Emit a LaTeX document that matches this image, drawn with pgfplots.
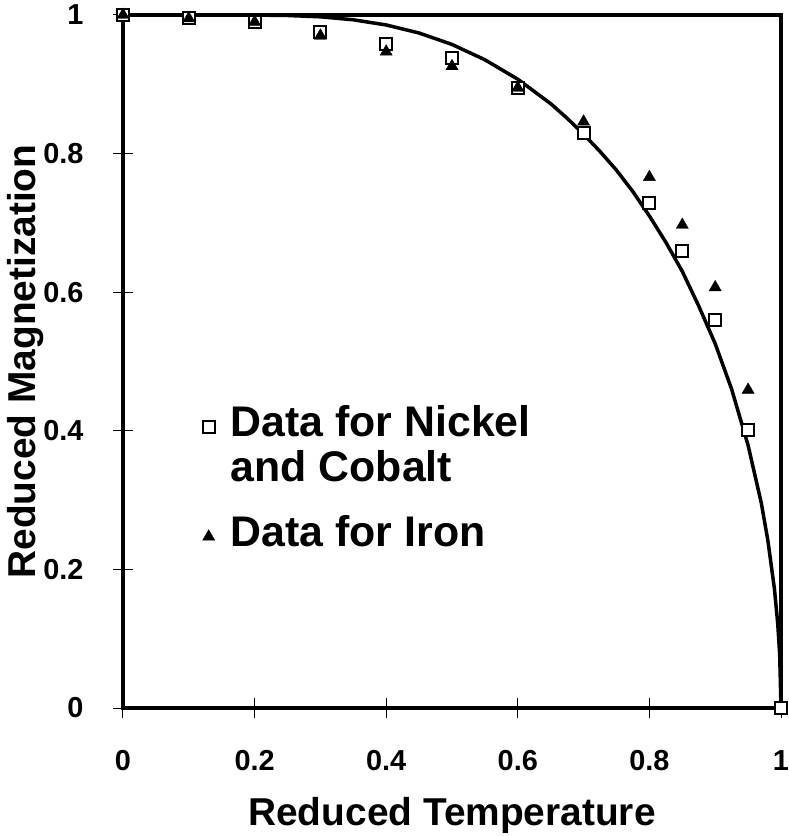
\documentclass[border=0pt]{standalone}
\usepackage{fontspec}
\setmainfont{Liberation Sans}
\usepackage{pgfplots}
\pgfplotsset{compat=1.18}
\begin{document}
\begin{tikzpicture}
\begin{axis}[name=ax, scale only axis, width=658bp, height=693bp,
  xmin=0, xmax=1, ymin=0, ymax=1,
  xtick={0,0.2,0.4,0.6,0.8,1}, ytick={0,0.2,0.4,0.6,0.8,1},
  tick pos=left,
  axis line style={line width=3.5bp},
  tick align=center, major tick length=20bp,
  tick style={line width=1bp, black},
  /pgf/number format/assume math mode=true,
  ticklabel style={font=\fontsize{29}{29}\selectfont\bfseries},
  xticklabel style={yshift=-29bp},
  yticklabel style={xshift=-26bp},
  xlabel={Reduced Temperature}, ylabel={Reduced Magnetization},
  label style={font=\fontsize{39}{39}\selectfont\bfseries},
  xlabel style={at={(axis description cs:0.5,-0.1241)}, anchor=north},
  ylabel style={at={(axis description cs:-0.1155,0.5)}, anchor=south},
  legend style={draw=none, fill=none, inner sep=0pt,
    at={(axis cs:0.117,0.4372)}, anchor=north west,
    font=\fontsize{43}{43}\selectfont\bfseries, row sep=0pt,
    nodes={inner ysep=0pt},
    /tikz/every odd column/.append style={column sep=14bp}},
  legend cell align=left,
  clip=false,
]
\addplot[black, line width=3.5bp, forget plot] coordinates {
(0,1) (0.1,1.0) (0.2,0.9999) (0.25,0.9993) (0.3,0.9974) (0.35,0.9931)
(0.4,0.9856) (0.45,0.974) (0.5,0.9575) (0.55,0.9354) (0.6,0.9073)
(0.65,0.872) (0.675,0.851) (0.7,0.828) (0.725,0.803) (0.75,0.776)
(0.775,0.745) (0.8,0.710) (0.825,0.672) (0.85,0.630) (0.875,0.580)
(0.9,0.5257) (0.925,0.460) (0.95,0.379) (0.97,0.296) (0.98,0.242)
(0.99,0.172) (0.995,0.122) (0.998,0.0773) (1,0)
};
\addplot[only marks, mark=square*, mark size=6bp,
  mark options={fill=white, draw=black, line width=2bp}] coordinates {
(0,1) (0.1,0.995) (0.2,0.99) (0.3,0.975) (0.4,0.958) (0.5,0.938)
(0.6,0.895) (0.7,0.829) (0.8,0.729) (0.85,0.66) (0.9,0.56) (0.95,0.401) (1,0)
};
\addlegendentry[text height=31bp, text depth=12bp]{Data for Nickel}
\addlegendimage{empty legend}
\addlegendentry[text height=33bp, text depth=34bp]{and Cobalt}
\addplot[only marks, mark=triangle*, mark size=7bp,
  mark options={fill=black, draw=black}] coordinates {
(0,1) (0.1,0.995) (0.2,0.99) (0.3,0.97) (0.4,0.947) (0.5,0.926)
(0.6,0.895) (0.7,0.846) (0.8,0.766) (0.85,0.697) (0.9,0.607) (0.95,0.459)
};
\addlegendentry[text height=31bp, text depth=12bp]{Data for Iron}
\end{axis}
\pgfresetboundingbox
\path ([shift={(-123bp,-128bp)}]ax.south west) rectangle ([shift={(8bp,15bp)}]ax.north east);
\end{tikzpicture}
\end{document}
